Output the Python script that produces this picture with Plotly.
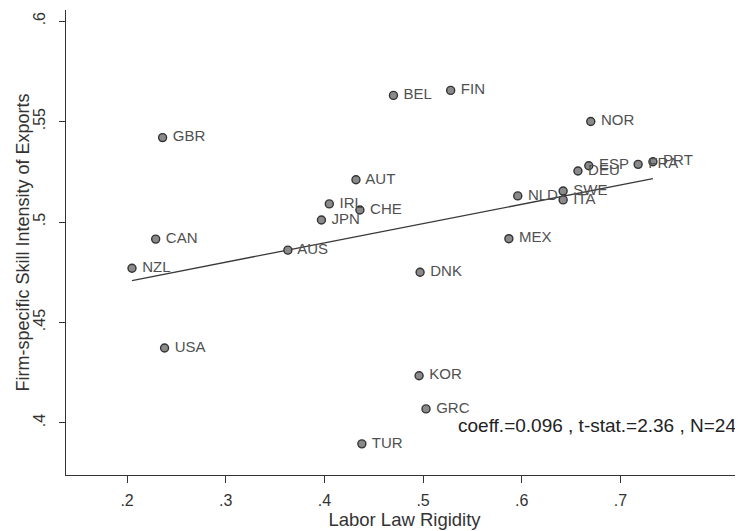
import plotly.graph_objects as go
import numpy as np

countries = ["GBR", "AUT", "IRL", "CHE", "JPN", "CAN", "AUS", "NZL", "BEL", "FIN",
             "NOR", "ESP", "FRA", "PRT", "DEU", "NLD", "SWE", "ITA", "MEX", "DNK",
             "USA", "KOR", "GRC", "TUR"]
labor_rigidity = [0.236, 0.432, 0.405, 0.436, 0.397, 0.229, 0.363, 0.205, 0.470, 0.528,
                  0.670, 0.668, 0.718, 0.733, 0.657, 0.596, 0.642, 0.642, 0.587, 0.497,
                  0.238, 0.496, 0.503, 0.438]
skill_intensity = [0.542, 0.521, 0.509, 0.506, 0.501, 0.4915, 0.486, 0.477, 0.563, 0.5655,
                   0.550, 0.528, 0.5287, 0.530, 0.5254, 0.513, 0.5154, 0.511, 0.4917, 0.475,
                   0.4373, 0.4235, 0.407, 0.3896]
fit_slope = 0.096
fit_intercept = 0.4512
x_ticks = [0.2, 0.3, 0.4, 0.5, 0.6, 0.7]
x_tick_labels = [".2", ".3", ".4", ".5", ".6", ".7"]
y_ticks = [0.4, 0.45, 0.5, 0.55, 0.6]
y_tick_labels = [".4", ".45", ".5", ".55", ".6"]
note = "coeff.=0.096 , t-stat.=2.36 , N=24"
x_title = "Labor Law Rigidity"
y_title = "Firm-specific Skill Intensity of Exports"

fx = np.array([min(labor_rigidity), max(labor_rigidity)])
fy = fit_intercept + fit_slope * fx

FONT = "Liberation Sans, Arial"

fig = go.Figure()
fig.add_trace(go.Scatter(
    x=fx, y=fy, mode="lines",
    line=dict(color="#3a3a3a", width=1.3), showlegend=False, hoverinfo="skip"))
fig.add_trace(go.Scatter(
    x=labor_rigidity, y=skill_intensity, mode="markers+text",
    text=[" " + c for c in countries], textposition="middle right",
    textfont=dict(family=FONT, size=15, color="#505050"),
    marker=dict(size=8, color="#8a8a8a", line=dict(color="#333333", width=1.4)),
    showlegend=False))

fig.add_annotation(
    x=0.5337, y=0.3985, xref="x", yref="y", xanchor="left", yanchor="middle",
    text=note, showarrow=False,
    font=dict(family=FONT, size=19, color="#222222"))

# y-axis title placed as rotated text left of the tick labels
fig.add_annotation(
    x=0, y=0.5, xref="paper", yref="paper", xanchor="center", yanchor="middle",
    xshift=-44, textangle=-90, text=y_title, showarrow=False,
    font=dict(family=FONT, size=18, color="#333333"))

fig.update_layout(
    width=735, height=523,
    margin=dict(l=58, r=0, t=2, b=56),
    paper_bgcolor="white", plot_bgcolor="white",
    font=dict(family=FONT, color="#333333"),
)
fig.update_xaxes(
    automargin=False,
    range=[0.1381, 0.8243], tickvals=x_ticks, ticktext=x_tick_labels,
    showgrid=False, zeroline=False, showline=True, linecolor="#333333", linewidth=1.3,
    ticks="outside", ticklen=7, tickcolor="#333333", tickfont=dict(size=16),
    ticklabelstandoff=4,
    title=dict(text=x_title, font=dict(size=18.5), standoff=2))
fig.update_yaxes(
    automargin=False,
    range=[0.3741, 0.6055], tickvals=y_ticks, ticktext=y_tick_labels,
    tickangle=-90,
    showgrid=False, zeroline=False, showline=True, linecolor="#333333", linewidth=1.3,
    ticks="outside", ticklen=6, tickcolor="#333333", tickfont=dict(size=16),
    ticklabelstandoff=7)

fig.write_html("out.html")
